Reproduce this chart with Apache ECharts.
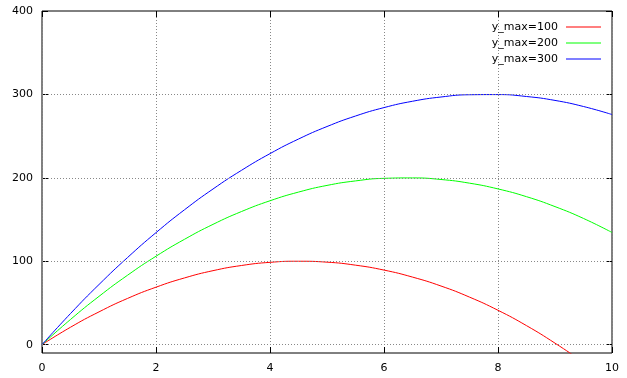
<!DOCTYPE html>
<html><head><meta charset="utf-8">
<script src="https://cdn.jsdelivr.net/npm/echarts@6/dist/echarts.min.js"></script>
<style>html,body{margin:0;padding:0;background:#fff}#c{width:627px;height:378px}</style>
</head><body><div id="c"></div>
<script>
const xs = [0,0.5,1,1.5,2,2.5,3,3.5,4,4.5,5,5.5,6,6.5,7,7.5,8,8.5,9,9.5,10];
const red = [0,20.9,39.3,55.4,68.9,80.0,88.7,94.9,98.7,100,98.9,95.3,89.4,81.0,70.3,57.0,41.2,22.8,1.8,-21.5,-47];
const green = [0,30.2,57.9,83.2,106.0,126.3,144.2,159.6,172.5,182.9,190.9,196.3,199.4,199.9,198.0,193.6,186.7,177.4,165.5,151.3,134.5];
const blue = [0,37.3,72.1,104.4,134.3,161.7,186.6,209.0,229.0,246.5,261.5,274.1,284.2,291.8,296.9,299.6,299.8,297.5,292.8,285.5,275.9];
const names = ['y_max=100','y_max=200','y_max=300'];
const colors = ['#ff0000','#00ff00','#0000ff'];
const yTicks = [0,100,200,300,400];
const xTicks = [0,2,4,6,8,10];

const font = 'DejaVu Sans';
const grid = {left:42,right:15,top:11,bottom:25,show:true,borderColor:'#000',borderWidth:1,backgroundColor:'transparent'};
const gridLine = {show:true,lineStyle:{color:'#888',type:[1,2],width:1}};
function mk(arr,i){return {name:names[i],type:'line',data:xs.map((x,k)=>[x,arr[k]]),smooth:true,symbol:'none',
  lineStyle:{color:colors[i],width:1},itemStyle:{color:colors[i]},clip:true,animation:false,z:3};}
const series=[mk(red,0),mk(green,1),mk(blue,2)];
series.push({type:'line',data:[],silent:true,markLine:{silent:true,symbol:'none',label:{show:false},
  lineStyle:{color:'#888',type:[1,2],width:1},data:yTicks.filter(v=>v>-10&&v<400).map(v=>({yAxis:v}))},animation:false});
const chart=echarts.init(document.getElementById('c'),null,{renderer:'canvas'});
chart.setOption({
  animation:false,
  textStyle:{fontFamily:font},
  grid:grid,
  legend:{data:names,orient:'vertical',right:26,top:19,padding:0,itemGap:0,align:'right',
    itemWidth:35,itemHeight:1,icon:'rect',
    textStyle:{fontFamily:font,fontSize:11,color:'#000',lineHeight:16,padding:[0,3,0,0]}},
  xAxis:[{type:'value',min:0,max:10,interval:2,
    axisLine:{show:false,onZero:false},
    axisTick:{show:true,inside:true,length:6,lineStyle:{color:'#000'}},
    axisLabel:{fontFamily:font,fontSize:11,color:'#000',margin:10},
    splitLine:gridLine},
   {type:'value',position:'top',min:0,max:10,interval:2,
    axisLine:{show:false,onZero:false},
    axisTick:{show:true,inside:true,length:6,lineStyle:{color:'#000'}},
    axisLabel:{show:false},splitLine:{show:false}}],
  yAxis:[{type:'value',min:-10,max:400,
    axisLine:{show:false,onZero:false},
    axisTick:{show:true,inside:true,length:6,lineStyle:{color:'#000'},customValues:yTicks},
    axisLabel:{fontFamily:font,fontSize:11,color:'#000',margin:9,customValues:yTicks},
    splitLine:{show:false}},
   {type:'value',position:'right',min:-10,max:400,
    axisLine:{show:false,onZero:false},
    axisTick:{show:true,inside:true,length:6,lineStyle:{color:'#000'},customValues:yTicks},
    axisLabel:{show:false},splitLine:{show:false}}],
  series:series
});
</script></body></html>
